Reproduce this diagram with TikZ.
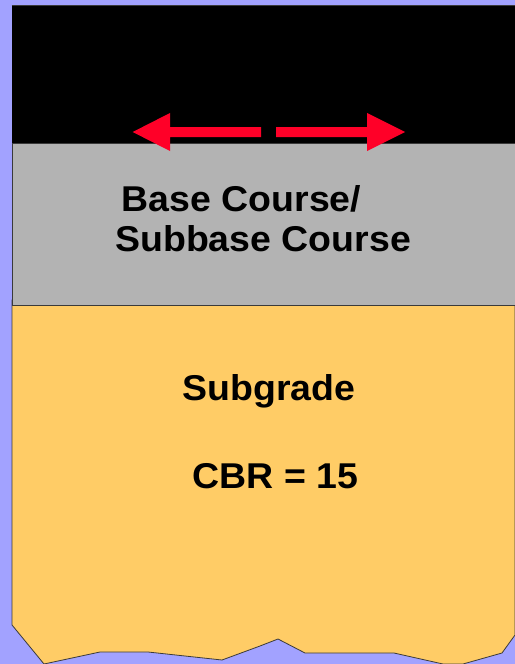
\documentclass[tikz,border=0pt]{standalone}
\usepackage{fontspec}
\setmainfont{Liberation Sans}
\definecolor{backdrop}{HTML}{A2A2FF}
\definecolor{basegray}{HTML}{B3B3B3}
\definecolor{subgrade}{HTML}{FFCC66}
\definecolor{arrowred}{HTML}{FF0028}
\definecolor{edge}{HTML}{3A3A3A}
\newcommand{\layertext}[1]{\scalebox{1.045}[1]{#1}}
\tikzset{
  layerlabel/.style={anchor=base west, inner sep=0pt, font=\fontsize{36}{40}\selectfont\bfseries},
  redarrow/.style={fill=arrowred, draw=none}
}
\begin{document}
\begin{tikzpicture}[x=1bp, y=-1bp]
  % canvas
  \fill[backdrop] (0,0) rectangle (515,664);
  \useasboundingbox (0,0) rectangle (515,664);
  % subgrade with broken lower edge
  \filldraw[fill=subgrade, draw=edge, line width=0.8bp]
    (12,300) -- (515,300) -- (515,635) -- (502,653) -- (463,664) -- (443,664)
    -- (394,653) -- (305,653) -- (278,639) -- (260,646) -- (222,660)
    -- (148,652) -- (100,652) -- (44,664) -- (12,625) -- cycle;
  % base / subbase course
  \filldraw[fill=basegray, draw=edge, line width=0.8bp] (12,143) rectangle (516,305);
  % surface layer
  \fill[black] (11.5,5.7) rectangle (516,143);
  \draw[edge, line width=0.6bp] (11.5,5.7) -- (516,5.7);
  % horizontal load arrows
  \fill[redarrow] (261,127) -- (170,127) -- (170,113) -- (132.7,132) -- (170,151) -- (170,137) -- (261,137) -- cycle;
  \fill[redarrow] (276,127) -- (367,127) -- (367,113) -- (405,132) -- (367,151) -- (367,137) -- (276,137) -- cycle;
  % labels
  \node[layerlabel] (base) at (121.5,211.7) {\layertext{Base Course/}};
  \node[layerlabel] (subbase) at (115,251.7) {\layertext{Subbase Course}};
  \node[layerlabel] (sg) at (182.5,400.7) {\layertext{Subgrade}};
  \node[layerlabel] (cbr) at (192.5,488.3) {\layertext{CBR = 15}};
\end{tikzpicture}
\end{document}
